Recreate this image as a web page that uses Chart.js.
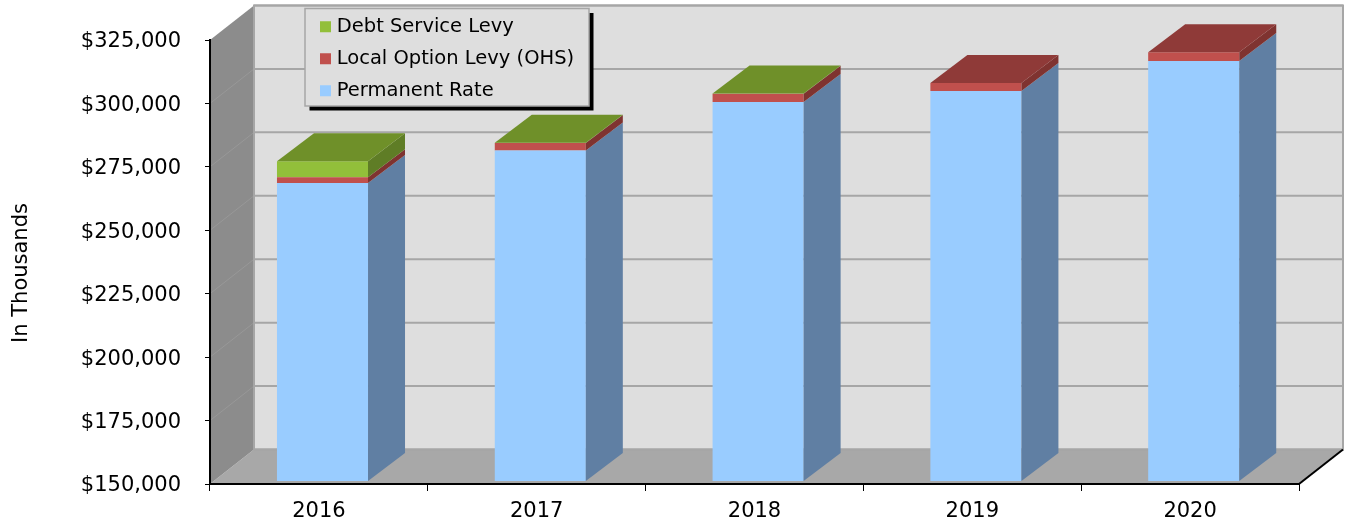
<!DOCTYPE html>
<html><head><meta charset="utf-8">
<style>html,body{margin:0;padding:0;background:#fff}#w{width:1351px;height:524px;position:relative}canvas{display:block}</style>
<script src="https://cdn.jsdelivr.net/npm/chart.js@4"></script></head>
<body><div id="w"><canvas id="c" width="1351" height="524"></canvas></div>
<script>
const categories = ['2016','2017','2018','2019','2020'];
const permanentRate = [267500,280250,299400,303700,315500];
const localOption = [2200,2950,3200,3150,3500];
const debtService = [6300,100,100,0,0];
const axisTitle = 'In Thousands';
const seriesNames = ['Permanent Rate','Local Option Levy (OHS)','Debt Service Levy'];
const frontColors = ['#99ccff','#c0504d','#92bf3a'];
const sideColors = ['#607fa3','#7f3330','#5f7d26'];
const topColors = ['#6f8fb5','#8f3a38','#6f9029'];
const font = 'DejaVu Sans, Verdana, sans-serif';
// 3D geometry (pixels)
const wallDx = 44, wallDy = -34.5, barDx = 37, barDy = -28, barShiftX = 3.6, barShiftY = -3;
const legendBox = {left:305,top:8.5,width:284,height:97.5};

const scene = {
  id:'scene',
  beforeDraw(chart){
    const {ctx,chartArea:a,scales:{y}} = chart;
    const L=a.left,R=a.right,T=a.top,B=a.bottom;
    ctx.save();
    ctx.fillStyle='#dedede';
    ctx.fillRect(L+wallDx,T+wallDy,R-L,B-T);
    ctx.fillStyle='#a8a8a8';
    ctx.beginPath();ctx.moveTo(L,B);ctx.lineTo(L+wallDx,B+wallDy);ctx.lineTo(R+wallDx,B+wallDy);ctx.lineTo(R,B);ctx.closePath();ctx.fill();
    ctx.fillStyle='#8c8c8c';
    ctx.beginPath();ctx.moveTo(L,B);ctx.lineTo(L+wallDx,B+wallDy);ctx.lineTo(L+wallDx,T+wallDy);ctx.lineTo(L,T);ctx.closePath();ctx.fill();
    ctx.lineWidth=2;
    y.ticks.forEach(t=>{
      const py=y.getPixelForValue(t.value);
      ctx.strokeStyle='#a6a6a6';
      ctx.beginPath();ctx.moveTo(L+wallDx,py+wallDy);ctx.lineTo(R+wallDx,py+wallDy);ctx.stroke();
      if(t.value>150000 && t.value<325000){
        ctx.strokeStyle='#989898';ctx.lineWidth=1;
        ctx.beginPath();ctx.moveTo(L,py);ctx.lineTo(L+wallDx,py+wallDy);ctx.stroke();
        ctx.lineWidth=2;
      }
    });
    ctx.strokeStyle='#a6a6a6';
    ctx.strokeRect(L+wallDx,T+wallDy,R-L,B-T);
    ctx.strokeStyle='#000';
    ctx.beginPath();ctx.moveTo(R,B);ctx.lineTo(R+wallDx,B+wallDy);ctx.stroke();
    const b=legendBox;
    ctx.fillStyle='#000';ctx.fillRect(b.left+4.5,b.top+4.5,b.width,b.height);
    ctx.fillStyle='#dedede';ctx.fillRect(b.left,b.top,b.width,b.height);
    ctx.strokeStyle='#a6a6a6';ctx.lineWidth=1.5;ctx.strokeRect(b.left,b.top,b.width,b.height);
    ctx.restore();
  },
  beforeDatasetsDraw(chart){
    chart.ctx.save();
    chart.ctx.translate(barShiftX,barShiftY);
  },
  afterDatasetsDraw(chart){
    const ctx=chart.ctx;
    const bottom=chart.chartArea.bottom;
    const metas=chart.data.datasets.map((d,i)=>chart.getDatasetMeta(i));
    categories.forEach((c,j)=>{
      let topIdx=0;
      metas.forEach((m,i)=>{
        const el=m.data[j]; const v=chart.data.datasets[i].data[j];
        if(!v) return;
        topIdx=i;
        const r=el.x+el.width/2, base=Math.min(el.base,bottom);
        ctx.fillStyle=sideColors[i];
        ctx.beginPath();ctx.moveTo(r,base);ctx.lineTo(r+barDx,base+barDy);ctx.lineTo(r+barDx,el.y+barDy);ctx.lineTo(r,el.y);ctx.closePath();ctx.fill();
      });
      const el=metas[topIdx].data[j];
      const l=el.x-el.width/2,r=el.x+el.width/2;
      ctx.fillStyle=topColors[topIdx];
      ctx.beginPath();ctx.moveTo(l,el.y);ctx.lineTo(l+barDx,el.y+barDy);ctx.lineTo(r+barDx,el.y+barDy);ctx.lineTo(r,el.y);ctx.closePath();ctx.fill();
    });
    ctx.restore();
  }
};
const placeLegend = {
  id:'placeLegend',
  beforeDraw(chart){
    const lg=chart.legend;
    lg.left=311.5;lg.top=4.5;lg.right=600;lg.bottom=300;lg.width=288.5;lg.height=295.5;
    const y=chart.scales.y;
    if(!y._titleShifted){
      y._titleShifted=true;
      const orig=y.drawTitle;
      y.drawTitle=function(){chart.ctx.save();chart.ctx.translate(0,11);orig.call(this);chart.ctx.restore();};
    }
  }
};
const mk=(i,data)=>({label:seriesNames[i],data,backgroundColor:frontColors[i],borderWidth:0,stack:'s',categoryPercentage:1,barPercentage:0.418});
new Chart(document.getElementById('c'),{
  type:'bar',
  data:{labels:categories,datasets:[mk(0,permanentRate),mk(1,localOption),mk(2,debtService)]},
  plugins:[placeLegend,scene],
  options:{
    responsive:false,animation:false,
    layout:{padding:{top:40,right:52,left:0,bottom:0}},
    plugins:{
      tooltip:{enabled:false},
      title:{display:false},
      legend:{display:true,position:'chartArea',align:'start',
        labels:{color:'#000',font:{family:font,size:19.5},padding:12.5,boxWidth:3,boxHeight:3,
          generateLabels:(chart)=>chart.data.datasets.map((d,i)=>({text:d.label,fillStyle:frontColors[i],strokeStyle:frontColors[i],lineWidth:8,datasetIndex:i,hidden:false})).reverse()
        }
      }
    },
    scales:{
      x:{stacked:true,
        afterFit:s=>{s.height=40},
        border:{color:'#000',width:2},
        grid:{display:true,drawOnChartArea:false,drawTicks:true,tickLength:7,color:'#000',lineWidth:1},
        ticks:{color:'#000',font:{family:font,size:21},padding:8,maxRotation:0}
      },
      y:{stacked:true,min:150000,max:325000,
        afterFit:s=>{s.width=210},
        border:{color:'#000',width:2},
        grid:{display:true,drawOnChartArea:false,drawTicks:true,tickLength:5,color:'#000',lineWidth:1},
        title:{display:true,text:axisTitle,color:'#000',font:{family:font,size:21},padding:{top:9,bottom:0}},
        ticks:{stepSize:25000,color:'#000',font:{family:font,size:21},padding:24,labelOffset:2,
          callback:v=>'$'+Number(v).toLocaleString('en-US')}
      }
    }
  }
});
</script></body></html>
